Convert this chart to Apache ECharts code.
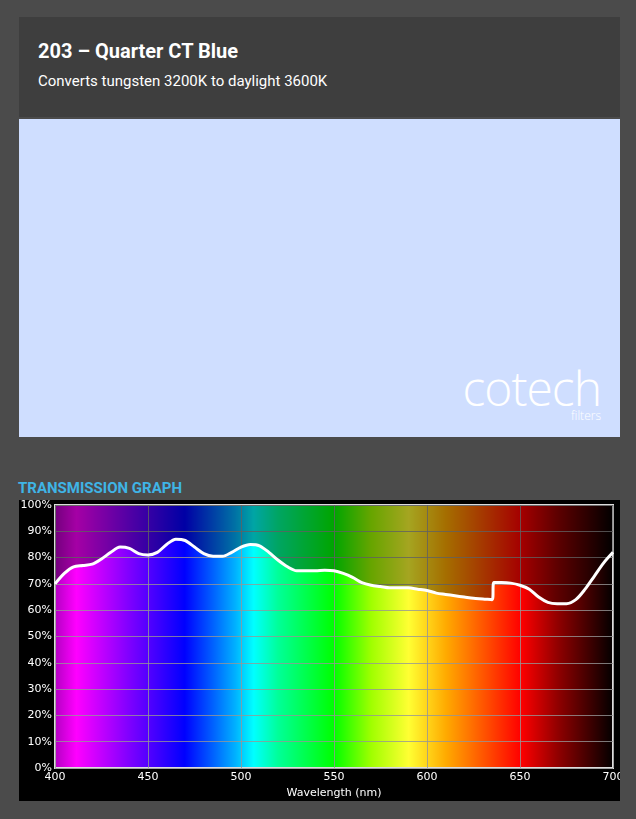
<!DOCTYPE html>
<html>
<head>
<meta charset="utf-8">
<script src="https://cdn.jsdelivr.net/npm/echarts@6/dist/echarts.min.js"></script>
<style>
  body { margin: 0; background: #4b4b4b; width: 636px; height: 819px; position: relative; font-family: Roboto, "Open Sans", sans-serif; overflow: hidden; }
  #head { position: absolute; left: 19px; top: 17px; width: 601px; height: 100px; background: #3e3e3e; }
  #head h1 { margin: 0; position: absolute; left: 19px; top: 22px; font-size: 20px; font-weight: bold; color: #fff; }
  #head p { margin: 0; position: absolute; left: 19px; top: 55px; font-size: 15px; color: #fff; }
  #swatch { position: absolute; left: 19px; top: 119px; width: 601px; height: 318px; background: #cfdeff; }
  #logo { position: absolute; right: 19px; top: 236px; color: #fff; font-family: "Open Sans", sans-serif; font-weight: 300; font-size: 48px; letter-spacing: -1px; }
  #logo span { position: absolute; right: 0; top: 52px; font-size: 12px; letter-spacing: 0; }
  #gtitle { position: absolute; left: 18px; top: 479px; color: #3fb4e6; font-weight: bold; font-size: 15px; }
  #chart { position: absolute; left: 19px; top: 500px; width: 601px; height: 301px; }
</style>
</head>
<body>
<div id="head"><h1>203 – Quarter CT Blue</h1><p>Converts tungsten 3200K to daylight 3600K</p></div>
<div id="swatch"><div id="logo">cotech<span>filters</span></div></div>
<div id="gtitle">TRANSMISSION GRAPH</div>
<div id="chart"></div>
<script>
var wavelengths = [400,405,410,415,420,425,430,435,440,445,450,455,460,465,470,475,480,485,490,495,500,505,510,515,520,525,530,535,540,545,550,555,560,565,570,575,580,585,590,595,600,605,610,615,620,625,630,635,636,640,645,650,655,660,665,670,675,680,685,690,695,700]
var transmission = [70,74,76.5,77,77.5,79.5,82,84,83.5,81.5,81,82,85,87,86.5,84,81.5,80.5,80.5,82,84,85,84.5,82,79,76.5,75,75,75,75.2,75,74,72.5,70.5,69.5,69,68.5,68.5,68.5,68,67.5,66.5,66,65.5,65,64.5,64.3,64,70.5,70.5,70.3,69.5,68,65,63,62.5,62.5,64,68,73,78,82]
var yTicks = ['0%','10%','20%','30%','40%','50%','60%','70%','80%','90%','100%']
var spectrumNm = [400,412,440,470,485,497,507,520,550,570,590,610,630,650,670,700]
var spectrumColors = ['#b000c0','#ff00ff','#8000ff','#0000ff','#0060ff','#00b0ff','#00ffff','#00ff99','#00ff00','#a0ff00','#ffff33','#ffaa00','#ff5500','#ff0000','#900000','#000000']

var curve = wavelengths.map(function (w, i) { return [w, transmission[i]] })
var stops = spectrumNm.map(function (w, i) { return { offset: (w - 400) / 300, color: spectrumColors[i] } })

var myChart = echarts.init(document.getElementById('chart'))
var option = {
  backgroundColor: '#000',
  animation: false,
  grid: { left: 36, right: 7, top: 5, bottom: 33, outerBoundsMode: 'none', containLabel: false,
    show: true, borderColor: '#ddd', borderWidth: 2,
    backgroundColor: new echarts.graphic.LinearGradient(0, 0, 1, 0, stops) },
  xAxis: {
    type: 'value', min: 400, max: 700, interval: 50,
    name: 'Wavelength (nm)', nameLocation: 'middle', nameGap: 18,
    nameTextStyle: { color: '#fff', fontSize: 11, fontFamily: 'DejaVu Sans' },
    axisLine: { show: false }, axisTick: { show: false },
    axisLabel: { color: '#fff', fontSize: 11, margin: 4, fontFamily: 'DejaVu Sans' },
    splitLine: { lineStyle: { color: 'rgba(150,150,150,0.8)', width: 1 } }
  },
  yAxis: {
    type: 'value', min: 0, max: 100, interval: 10,
    axisLine: { show: false }, axisTick: { show: false },
    axisLabel: { color: '#fff', fontSize: 11, margin: 3, fontFamily: 'DejaVu Sans',
      formatter: function (v) { return yTicks[v / 10] } },
    splitLine: { lineStyle: { color: 'rgba(150,150,150,0.8)', width: 1 } }
  },
  series: [
    { type: 'line', data: curve, symbol: 'none', smooth: 0.3,
      lineStyle: { color: '#fff', width: 3 },
      areaStyle: { origin: 'end', color: 'rgba(0,0,0,0.5)' } }
  ]
}
myChart.setOption(option, true)
</script>
</body>
</html>
